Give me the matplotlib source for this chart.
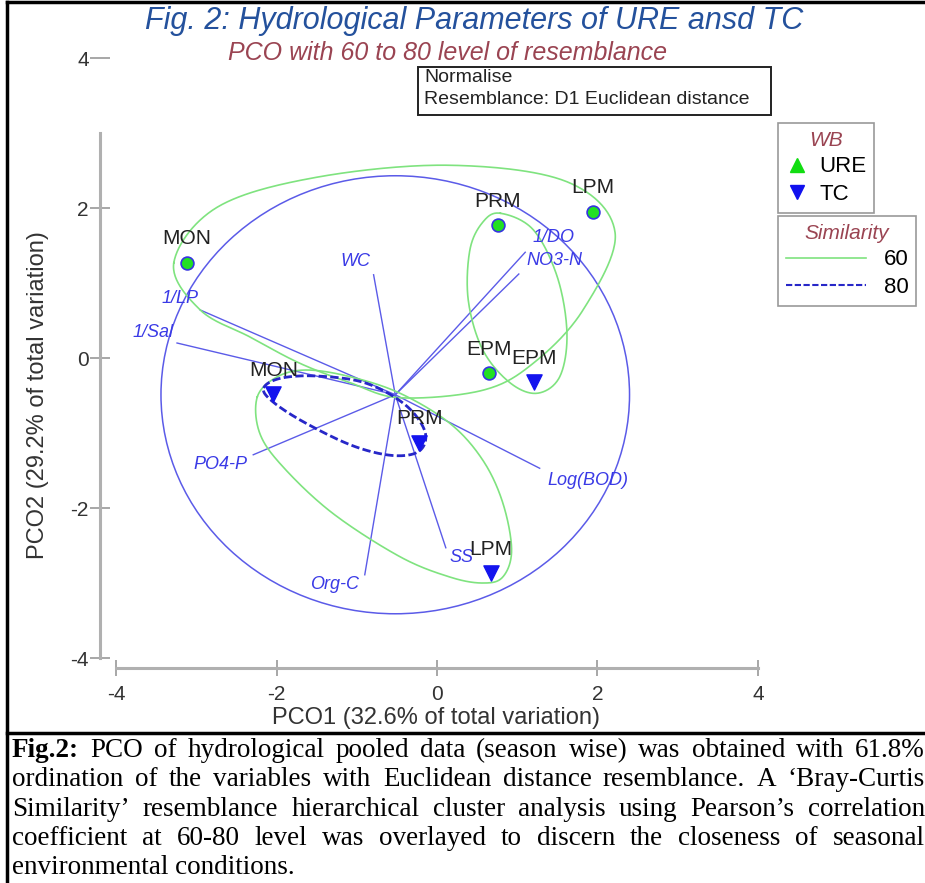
import matplotlib.pyplot as plt
import numpy as np
from matplotlib.lines import Line2D
from matplotlib.patches import Circle, Rectangle

plt.rcParams["font.family"] = ["Liberation Sans", "DejaVu Sans"]
plt.rcParams["axes.unicode_minus"] = False

# PCO scores of the samples (season labels)
ure_labels = ["MON", "PRM", "LPM", "EPM"]
ure_x = [-3.12, 0.76, 1.94, 0.65]
ure_y = [1.27, 1.77, 1.95, -0.20]
tc_labels = ["MON", "PRM", "EPM", "LPM"]
tc_x = [-2.04, -0.22, 1.21, 0.67]
tc_y = [-0.48, -1.13, -0.32, -2.87]

# variable vectors (tips), drawn from the centre of the vector circle
vec_names = ["WC", "1/DO", "NO3-N", "1/LP", "1/Sal", "PO4-P", "Org-C", "SS", "Log(BOD)"]
vec_x = [-0.79, 1.10, 1.02, -2.95, -3.24, -2.29, -0.90, 0.11, 1.28]
vec_y = [1.11, 1.41, 1.12, 0.64, 0.20, -1.29, -2.89, -2.53, -1.47]
vec_origin = (-0.52, -0.49)
vec_radius = 2.92

# cluster outlines (60 and 80 % similarity)
sim60_a_x = [-3.28, -2.74, -1.50, 0.16, 1.62, 2.22, 1.82, 1.20, 0.57, -0.46, -1.08, -1.71, -2.33, -2.95]
sim60_a_y = [1.27, 2.01, 2.41, 2.57, 2.35, 1.67, 0.64, -0.07, -0.43, -0.53, -0.33, -0.07, 0.28, 0.64]
sim60_b_x = [0.79, 1.20, 1.50, 1.62, 1.53, 1.25, 0.91, 0.57, 0.39, 0.41, 0.57]
sim60_b_y = [1.93, 1.71, 1.08, 0.33, -0.25, -0.47, -0.33, 0.11, 0.77, 1.44, 1.81]
sim60_c_x = [-2.24, -1.99, -1.62, -1.08, -0.46, 0.16, 0.57, 0.82, 0.93, 0.82, 0.57, 0.16, -0.46, -1.30, -1.92, -2.21]
sim60_c_y = [-0.52, -0.25, -0.16, -0.25, -0.47, -0.87, -1.36, -1.93, -2.56, -2.92, -3.00, -2.92, -2.65, -2.07, -1.45, -1.00]
sim80_x = [-2.16, -1.95, -1.50, -0.90, -0.40, -0.15, -0.22, -0.55, -1.05, -1.65, -2.05]
sim80_y = [-0.40, -0.27, -0.24, -0.33, -0.62, -0.98, -1.24, -1.30, -1.17, -0.86, -0.58]

caption_lines = [
    "Fig.2: PCO of hydrological pooled data (season wise) was obtained with 61.8%",
    "ordination of the variables with Euclidean distance resemblance. A \u2018Bray-Curtis",
    "Similarity\u2019 resemblance hierarchical cluster analysis using Pearson\u2019s correlation",
    "coefficient at 60-80 level was overlayed to discern the closeness of seasonal",
    "environmental conditions.",
]

# label offsets in pixels from the vector tips
vec_label_offsets = [(-18, 13), (28, 15), (36, 14), (-20, 12), (-24, 11),
                     (-33, -10), (-30, -10), (16, -10), (48, -12)]

GREEN = "#7fe37f"
BLUE = "#5b5be8"
DASH_BLUE = "#2727c8"
VEC_TXT = "#3a3ae6"
RED_TXT = "#9a4452"

W, H = 925, 883


def fx(px):
    return px / W


def fy(py):
    return 1 - py / H


def closed_curve(xs, ys, n=30):
    p = np.column_stack([xs, ys])
    m = len(p)
    t = np.linspace(0, 1, n, endpoint=False)[:, None]
    parts = []
    for i in range(m):
        p0, p1, p2, p3 = p[i - 1], p[i], p[(i + 1) % m], p[(i + 2) % m]
        parts.append(0.5 * (2 * p1 + (-p0 + p2) * t
                            + (2 * p0 - 5 * p1 + 4 * p2 - p3) * t ** 2
                            + (-p0 + 3 * p1 - 3 * p2 + p3) * t ** 3))
    pts = np.vstack(parts + [parts[0][:1]])
    return pts[:, 0], pts[:, 1]


fig = plt.figure(figsize=(W / 100, H / 100), dpi=100)
ax = fig.add_axes([fx(100), fy(668), fx(790) - fx(100), fy(40) - fy(668)])
ax.set_xlim(-4.2, 4.4)
ax.set_ylim(-4.133, 4.24)
ax.patch.set_alpha(0)

for side in ["top", "right"]:
    ax.spines[side].set_visible(False)
for side in ["left", "bottom"]:
    ax.spines[side].set_color("#b0b0b0")
    ax.spines[side].set_linewidth(2.2)
ax.spines["left"].set_bounds(-4, 3)
ax.spines["bottom"].set_bounds(-4, 4)
ax.set_xticks([-4, -2, 0, 2, 4])
ax.set_yticks([-4, -2, 0, 2, 4])
ax.tick_params(axis="y", direction="inout", length=14, width=1.3, color="#a0a0a0",
               labelsize=15, labelcolor="#333333", pad=1)
ax.tick_params(axis="x", direction="inout", length=11, width=1.3, color="#a0a0a0",
               labelsize=15, labelcolor="#333333", pad=7)

# vector circle and vectors
ax.add_patch(Circle(vec_origin, vec_radius, fill=False, ec=BLUE, lw=1.1))
for name, ex, ey, off in zip(vec_names, vec_x, vec_y, vec_label_offsets):
    ax.plot([vec_origin[0], ex], [vec_origin[1], ey], color=BLUE, lw=1.0)
    ax.annotate(name, (ex, ey), xytext=off, textcoords="offset pixels", ha="center",
                va="center", color=VEC_TXT, fontsize=13, style="italic")

# cluster outlines
for cx, cy in [(sim60_a_x, sim60_a_y), (sim60_b_x, sim60_b_y), (sim60_c_x, sim60_c_y)]:
    xs, ys = closed_curve(cx, cy)
    ax.plot(xs, ys, color=GREEN, lw=1.2)
xs, ys = closed_curve(sim80_x, sim80_y)
ax.plot(xs, ys, color=DASH_BLUE, lw=2.0, dashes=(3, 1.2))

# samples
ax.scatter(ure_x, ure_y, marker="o", s=85, color="#22e022", edgecolors="#3535e0", linewidths=1.2, zorder=5)
ax.scatter(tc_x, tc_y, marker="v", s=120, color="#1414ee", zorder=5)
for lab, x, y in list(zip(ure_labels, ure_x, ure_y)) + list(zip(tc_labels, tc_x, tc_y)):
    ax.annotate(lab, (x, y), xytext=(0, 24), textcoords="offset pixels", ha="center",
                va="center", fontsize=15, color="#222222", zorder=6)

# titles and boxes
fig.text(fx(474), fy(21), "Fig. 2: Hydrological Parameters of URE ansd TC", ha="center", va="center",
         fontsize=22, style="italic", color="#24519c")
fig.text(fx(447), fy(53), "PCO with 60 to 80 level of resemblance", ha="center", va="center",
         fontsize=18, style="italic", color=RED_TXT)
fig.add_artist(Rectangle((fx(418), fy(115)), fx(771) - fx(418), fy(67) - fy(115),
                         transform=fig.transFigure, fill=False, ec="#222222", lw=1.4))
fig.text(fx(424), fy(78), "Normalise", ha="left", va="center", fontsize=14, color="#222222")
fig.text(fx(424), fy(100), "Resemblance: D1 Euclidean distance", ha="left", va="center",
         fontsize=14, color="#222222")

fig.text(fx(436), fy(718), "PCO1 (32.6% of total variation)", ha="center", va="center",
         fontsize=17, color="#333333")
fig.text(fx(38), fy(395), "PCO2 (29.2% of total variation)", ha="center", va="center",
         rotation=90, fontsize=17, color="#333333")

# legends
wb_handles = [Line2D([], [], ls="none", marker="^", ms=10, color="#11dd11"),
              Line2D([], [], ls="none", marker="v", ms=10, color="#1010ee")]
leg1 = fig.legend(wb_handles, ["URE", "TC"], title="WB", loc="upper left",
                  bbox_to_anchor=(fx(778), fy(123)), borderaxespad=0, fancybox=False,
                  edgecolor="#999999", framealpha=1, fontsize=16, title_fontsize=15,
                  handlelength=1.0, handletextpad=0.5, borderpad=0.35, labelspacing=0.3)
sim_handles = [Line2D([], [], color=GREEN, lw=1.2),
               Line2D([], [], color=DASH_BLUE, lw=1.5, dashes=(3, 1.2))]
leg2 = fig.legend(sim_handles, ["60", "80"], title="Similarity", loc="upper left",
                  bbox_to_anchor=(fx(778), fy(216)), borderaxespad=0, fancybox=False,
                  edgecolor="#999999", framealpha=1, fontsize=16, title_fontsize=15,
                  handlelength=3.6, handletextpad=0.8, borderpad=0.35, labelspacing=0.3)
for leg in (leg1, leg2):
    leg.get_frame().set_linewidth(1.2)
    leg.get_title().set_color(RED_TXT)
    leg.get_title().set_style("italic")

# frame lines
fig.add_artist(Line2D([fx(7), fx(7)], [fy(2), fy(883)], transform=fig.transFigure, color="black", lw=2.5))
fig.add_artist(Line2D([fx(7), fx(925)], [fy(2), fy(2)], transform=fig.transFigure, color="black", lw=2.5))
fig.add_artist(Line2D([fx(7), fx(925)], [fy(733), fy(733)], transform=fig.transFigure, color="black", lw=2.5))

# justified caption
renderer = fig.canvas.get_renderer()
cap_left, cap_right = 12, 925
cap_size = 19.5
for i, line in enumerate(caption_lines):
    base = fy(757 + i * 29.3)
    if i == len(caption_lines) - 1:
        fig.text(fx(cap_left), base, line, ha="left", va="baseline", fontsize=cap_size,
                 family="Liberation Serif", color="black")
        continue
    words = line.split(" ")
    texts = []
    for j, w in enumerate(words):
        bold = i == 0 and j == 0
        texts.append(fig.text(0, base, w, ha="left", va="baseline", fontsize=cap_size,
                              family="Liberation Serif", weight="bold" if bold else "normal",
                              color="black"))
    widths = [t.get_window_extent(renderer).width for t in texts]
    gap = (cap_right - cap_left - sum(widths)) / (len(words) - 1)
    x = cap_left
    for t, wd in zip(texts, widths):
        t.set_x(fx(x))
        x += wd + gap

fig.savefig("out.png", dpi=100)
